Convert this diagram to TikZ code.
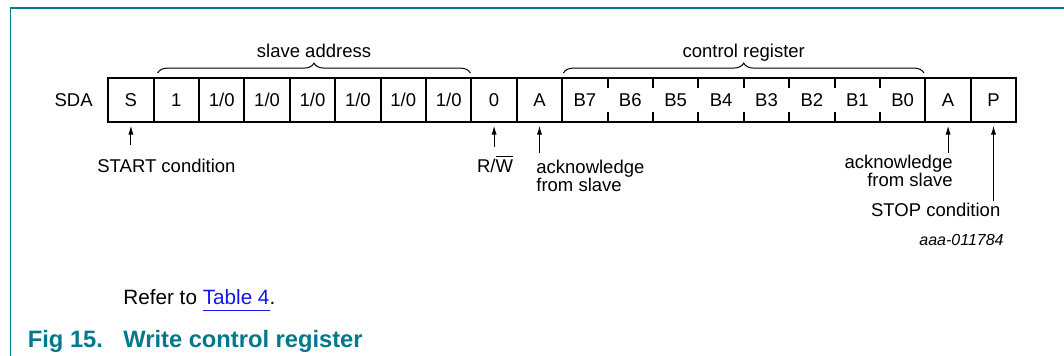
\documentclass[tikz,border=0pt]{standalone}
\usepackage{fontspec}
\setmainfont{Liberation Sans}
\usetikzlibrary{arrows.meta,decorations.pathreplacing}
\definecolor{nxpteal}{RGB}{0,121,140}
\definecolor{linkblue}{RGB}{20,20,235}
\newcommand{\tablelink}[1]{\textcolor{linkblue}{\setbox0\hbox{#1}\rlap{\rule[-3.2pt]{\wd0}{0.9pt}}\box0}}

\begin{document}
\begin{tikzpicture}[x=0.5pt,y=-0.5pt,>={Latex[length=4.5pt,width=2.6pt]},
    node distance=22.7pt,
    cell/.style={rectangle,draw,line width=1pt,outer sep=0pt,inner sep=0pt,
      minimum width=22.7pt,minimum height=21.7pt,text height=6.7pt,text depth=0pt,
      font=\fontsize{9.25}{11}\selectfont},
    bitcell/.style={cell,draw=none},
    tag/.style={inner sep=0pt,font=\fontsize{9.25}{9.2}\selectfont},
    pointer/.style={->,line width=0.5pt,shorten >=2pt},
    bracket/.style={decorate,decoration={brace,amplitude=5pt,raise=2.6pt},line width=0.5pt}]

  \useasboundingbox (0,0) rectangle (1064,356);
  % frame
  \draw[nxpteal,line width=0.8pt] (10.3,356) -- (10.3,8.3) -- (1064,8.3);

  \node[tag,anchor=base east] (SDA) at (93,106.6) {SDA};

  \node[cell] (Start) at (130.9,100) {S};
  \node[cell] (Bit1) [right of=Start] {1};
  \node[cell] (Bit2) [right of=Bit1] {1/0};
  \node[cell] (Bit3) [right of=Bit2] {1/0};
  \node[cell] (Bit4) [right of=Bit3] {1/0};
  \node[cell] (Bit5) [right of=Bit4] {1/0};
  \node[cell] (Bit6) [right of=Bit5] {1/0};
  \node[cell] (Bit7) [right of=Bit6] {1/0};
  \node[cell] (RW) [right of=Bit7] {0};
  \node[cell] (Ack) [right of=RW] {A};

  \node[bitcell] (B7) [right of=Ack] {B7};
  \node[bitcell] (B6) [right of=B7] {B6};
  \node[bitcell] (B5) [right of=B6] {B5};
  \node[bitcell] (B4) [right of=B5] {B4};
  \node[bitcell] (B3) [right of=B4] {B3};
  \node[bitcell] (B2) [right of=B3] {B2};
  \node[bitcell] (B1) [right of=B2] {B1};
  \node[bitcell] (B0) [right of=B1] {B0};

  \node[cell] (Ack') [right of=B0] {A};
  \node[cell] (Stop) [right of=Ack'] {P};

  % control register frame with short ticks
  \draw[line width=1pt] (B7.north west) rectangle (B0.south east);
  \draw[line width=1pt]
    (B7.north east) -- ++(0,10) (B7.south east) -- ++(0,-10)
    (B6.north east) -- ++(0,10) (B6.south east) -- ++(0,-10)
    (B5.north east) -- ++(0,10) (B5.south east) -- ++(0,-10)
    (B4.north east) -- ++(0,10) (B4.south east) -- ++(0,-10)
    (B3.north east) -- ++(0,10) (B3.south east) -- ++(0,-10)
    (B2.north east) -- ++(0,10) (B2.south east) -- ++(0,-10)
    (B1.north east) -- ++(0,10) (B1.south east) -- ++(0,-10);

  % braces
  \draw[bracket] ([xshift=2pt]Bit1.north west) --
    node[tag,anchor=base,yshift=10.5pt] (SlaveText) {slave address}
    ([xshift=-0.5pt]Bit7.north east);
  \draw[bracket] ([xshift=0.6pt]B7.north west) --
    node[tag,anchor=base,yshift=10.5pt] (RegText) {control register}
    ([xshift=-0.7pt]B0.north east);

  % pointers
  \coordinate (StartTail) at ([yshift=-11.6pt]Start.south);
  \coordinate (RWTail) at ([yshift=-12.5pt]RW.south);
  \coordinate (AckTail) at ([yshift=-15.5pt]Ack.south);
  \coordinate (AckTail') at ([yshift=-15.5pt]Ack'.south);
  \coordinate (StopTail) at ([yshift=-39.5pt]Stop.south);

  \draw[pointer] (StartTail) -- (Start);
  \draw[pointer] (RWTail) -- (RW);
  \draw[pointer] (AckTail) -- (Ack);
  \draw[pointer] (AckTail') -- (Ack');
  \draw[pointer] (StopTail) -- (Stop);

  \node[tag,anchor=base west] (StartText) at (97,173) {START condition};
  \node[tag,anchor=base] (RWText) at (495,172.3) {R/$\overline{\mbox{W}}$};
  \node[tag,align=left,anchor=north west] (AckText) at (536,159.8) {acknowledge\\from slave};
  \node[tag,align=right,anchor=north east] (AckText') at (953,154.8) {acknowledge\\from slave};
  \node[tag,anchor=base east] (StopText) at (1000.7,216.7) {STOP condition};
  \node[tag,anchor=base east,font=\fontsize{8}{9}\selectfont\itshape] (Code) at (1004,246) {aaa-011784};

  % caption
  \node[anchor=base west,inner sep=0pt,font=\fontsize{10.35}{12}\selectfont] (Refer) at (123,305)
    {Refer to \tablelink{Table 4}.};
  \node[anchor=base west,inner sep=0pt,text=nxpteal,font=\fontsize{11.85}{14}\selectfont\bfseries] (Caption) at (27.5,348)
    {\makebox[47.75pt][l]{Fig 15.}Write control register};
\end{tikzpicture}
\end{document}
